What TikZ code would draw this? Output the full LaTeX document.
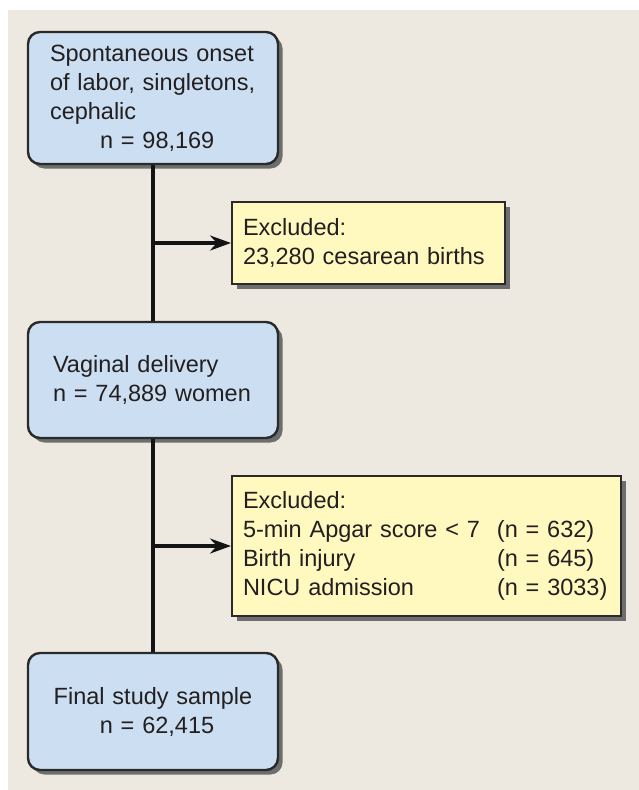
\documentclass[tikz,border=0pt]{standalone}
\usepackage{fontspec}
\setmainfont{Liberation Sans}
\usetikzlibrary{shadows,arrows.meta}
\definecolor{bgbeige}{HTML}{EDE9E0}
\definecolor{boxblue}{HTML}{CCDFF2}
\definecolor{boxyellow}{HTML}{FFF8BF}
\definecolor{edgedark}{HTML}{2A2A2A}
\definecolor{shadowgray}{HTML}{6E6E6E}
\definecolor{txt}{HTML}{231F20}
\begin{document}
\begin{tikzpicture}[x=1pt,y=-1pt,
  every node/.style={font=\fontsize{23.5}{29}\selectfont, text=txt, inner sep=0pt},
  bluebox/.style={draw=edgedark, line width=2.4pt, fill=boxblue, rounded corners=12pt,
    minimum width=250pt, drop shadow={shadow xshift=4.5pt, shadow yshift=-4.5pt, fill=shadowgray, opacity=1}},
  yellowbox/.style={draw=edgedark, line width=2pt, fill=boxyellow,
    drop shadow={shadow xshift=4.5pt, shadow yshift=-4.5pt, fill=shadowgray, opacity=1}},
  flow/.style={line width=3.4pt, draw=black!92},
  flowarrow/.style={flow, -{Stealth[length=21pt, width=15pt, inset=7pt]}}
]
\fill[white] (0,0) rectangle (639,790);
\fill[bgbeige] (8,10) rectangle (639,790);
\useasboundingbox (0,0) rectangle (639,790);

\node[bluebox, minimum height=132pt, text width=206pt, align=left] (start) at (153,98)
  {Spontaneous onset\\of labor, singletons,\\cephalic\\\hspace*{50pt}n = 98,169};
\node[bluebox, minimum height=116pt, text width=200pt, align=left] (vag) at (153,380)
  {Vaginal delivery\\n = 74,889 women};
\node[bluebox, minimum height=117pt, text width=200pt, align=center] (final) at (153,711.5)
  {Final study sample\\\hspace*{8pt}n = 62,415};

\node[yellowbox, minimum width=273pt, minimum height=82pt, text width=251pt, align=left] (ex1) at (368.5,243)
  {Excluded:\\23,280 cesarean births};
\node[yellowbox, minimum width=389pt, minimum height=140pt, text width=367pt, align=left] (ex2) at (426.5,546)
  {Excluded:\\\makebox[254pt][l]{5-min Apgar score < 7}(n = 632)\\\makebox[254pt][l]{Birth injury}(n = 645)\\\makebox[254pt][l]{NICU admission}(n = 3033)};

\coordinate (j1) at (153,243);
\coordinate (j2) at (153,546);

\draw[flow] (start.south) -- (vag.north);
\draw[flow] (vag.south) -- (final.north);
\draw[flowarrow] (j1) -- (ex1.west);
\draw[flowarrow] (j2) -- (ex2.west);
\end{tikzpicture}
\end{document}
